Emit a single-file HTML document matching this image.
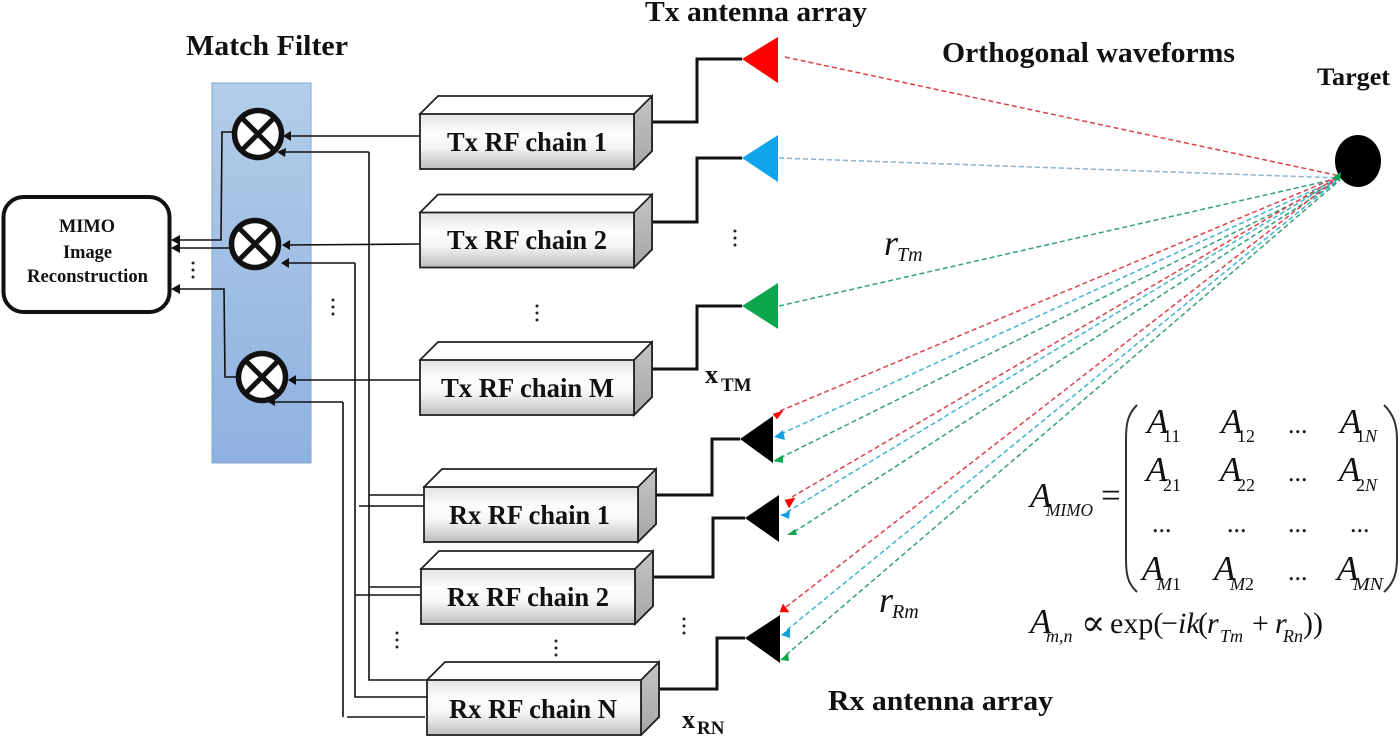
<!DOCTYPE html>
<html>
<head>
<meta charset="utf-8">
<style>
html,body{margin:0;padding:0;background:#fff;width:1400px;height:736px;overflow:hidden}
svg{display:block}
text{font-family:"Liberation Serif",serif;fill:#111}
.b{font-weight:bold}
.i{font-style:italic}
.w{fill:none;stroke:#111;stroke-width:1.6}
.t{fill:none;stroke:#111;stroke-width:3}
.box{stroke:#222;stroke-width:1.8;stroke-linejoin:miter}
.mx{fill:#fff;stroke:#111;stroke-width:5.5}
.mxl{stroke:#111;stroke-width:5}
.d{fill:none;stroke-width:1.5;stroke-dasharray:5 3}
.m{font-size:35px}
.f{font-size:30px}
.s{font-size:18px}
.c{font-size:26px}
</style>
</head>
<body>
<svg width="1400" height="736" viewBox="0 0 1400 736" xmlns="http://www.w3.org/2000/svg">
<defs>
<linearGradient id="bl" x1="0" y1="0" x2="0" y2="1"><stop offset="0" stop-color="#b3cde9"/><stop offset="1" stop-color="#8eb1e0"/></linearGradient>
<linearGradient id="fr" x1="0" y1="0" x2="0" y2="1"><stop offset="0" stop-color="#e4e4e4"/><stop offset=".35" stop-color="#fdfdfd"/><stop offset=".6" stop-color="#f6f6f6"/><stop offset="1" stop-color="#bdbdbd"/></linearGradient>
<linearGradient id="sd" x1="0" y1="0" x2="0" y2="1"><stop offset="0" stop-color="#c4c4c4"/><stop offset="1" stop-color="#a6a6a6"/></linearGradient>
<g id="chain">
<path class="box" d="M0 18 L18 0 H232 V55 L214 73 Z" fill="#fff"/>
<path class="box" d="M214 18 L232 0 V55 L214 73 Z" fill="url(#sd)"/>
<rect class="box" x="0" y="18" width="214" height="55" fill="url(#fr)"/>
</g>
<g id="mix">
<circle class="mx" r="23.500"/>
<path class="mxl" d="M-17 -17 L17 17 M17 -17 L-17 17"/>
</g>
<g id="dots" fill="#222"><circle cy="-7" r="1.5"/><circle r="1.5"/><circle cy="7" r="1.5"/></g>
</defs>

<rect x="212" y="83" width="99" height="380" fill="url(#bl)" stroke="#7fa8d8" stroke-width="1"/>
<rect x="3.500" y="197" width="166" height="115" rx="20" fill="#fff" stroke="#111" stroke-width="4"/>

<!-- thin connectors -->
<path class="w" d="M420 136 H287"/>
<path class="w" d="M369 152 H281 M369 152 V680 H427 M369 495 H424"/>
<path class="w" d="M420 244 L286 245"/>
<path class="w" d="M355 263 H286 M355 263 V697 H427 M355 595 H421"/>
<path class="w" d="M370 587 H426"/>
<path class="w" d="M359 506 H425"/>
<path class="w" d="M420 380 H292"/>
<path class="w" d="M343 402 H274 M343 402 V717 M347 717 H425"/>
<path class="w" d="M232 132 H222 L221 240 H178"/>
<path class="w" d="M231 248 H178"/>
<path class="w" d="M237 377 H225 L224 289 H178"/>

<use href="#mix" x="258" y="134"/>
<use href="#mix" x="255" y="244"/>
<use href="#mix" x="262" y="377"/>

<g fill="#111">
<path d="M283 136 L291 131 V141 Z"/>
<path d="M277 152 L286 148 L285 157 Z"/>
<path d="M282 245 L290 240 V250 Z"/>
<path d="M281 263 L289 258 V268 Z"/>
<path d="M288 380 L296 375 V385 Z"/>
<path d="M268 402 L275 398 V406 Z"/>
<path d="M171 240 L180 235 V245 Z"/>
<path d="M171 248 L180 243 V253 Z"/>
<path d="M171 289 L180 284 V294 Z"/>
</g>

<!-- boxes -->
<use href="#chain" x="420" y="96"/>
<use href="#chain" x="420" y="194.500"/>
<use href="#chain" x="420" y="342"/>
<use href="#chain" x="424" y="469"/>
<use href="#chain" x="421" y="551"/>
<use href="#chain" x="427" y="662"/>

<!-- thick connectors -->
<path class="t" d="M653 122 H697 V59 H742"/>
<path class="t" d="M653 222 H697 V158 H742"/>
<path class="t" d="M653 369 H697 V306 H742"/>
<path class="t" d="M656 495 H712 V439 H740"/>
<path class="t" d="M654 577 H713 V518 H745"/>
<path class="t" d="M660 689 H717 V638 H745"/>

<!-- antennas -->
<path d="M742 59 L778 37 V83 Z" fill="#ff0000"/>
<path d="M742 158 L778 135 V182 Z" fill="#0ea5ea"/>
<path d="M742 306 L778 283 V329 Z" fill="#0ca64c"/>
<path d="M740 439 L773 416 V463 Z" fill="#000"/>
<path d="M745 518 L779 495 V542 Z" fill="#000"/>
<path d="M745 638 L780 615 V663 Z" fill="#000"/>

<!-- target -->
<ellipse cx="1358" cy="161" rx="23" ry="26" fill="#000"/>

<!-- dashed rays -->
<g class="d">
<path class="d" stroke="#d9434f" d="M785 57 L1340 176"/>
<path class="d" stroke="#86b4d6" d="M779 158 L1340 178"/>
<path class="d" stroke="#35a07a" d="M779 306 L1340 178"/>
<path class="d" stroke="#d9434f" d="M780 411 L1340 176"/>
<path class="d" stroke="#3fb5cf" d="M781 434 L1340 178"/>
<path class="d" stroke="#35a07a" d="M780 458 L1340 180"/>
<path class="d" stroke="#d9434f" d="M792 497 L1340 176"/>
<path class="d" stroke="#3fb5cf" d="M787 512 L1340 178"/>
<path class="d" stroke="#35a07a" d="M794 532 L1340 180"/>
<path class="d" stroke="#d9434f" d="M786 607 L1340 176"/>
<path class="d" stroke="#3fb5cf" d="M787 630 L1340 178"/>
<path class="d" stroke="#35a07a" d="M786 655 L1340 180"/>
</g>
<path d="M1332 178 L1341 172 L1340 181 Z" fill="#0ca64c"/>
<g>
<path d="M773 414 L783 411 L777 419 Z M785 500 L795 498 L789 508 Z M780 612 L789 612 L783 604 Z" fill="#ff0000" stroke="#ff0000" stroke-width=".5"/>
<path d="M774 437 L783 430 L785 440 Z M780 515 L790 511 L789 519 Z M781 635 L790 628 L790 638 Z" fill="#14a0e0"/>
<path d="M773 461 L783 455 L783 463 Z M787 535 L795 529 L797 535 Z M780 660 L788 653 L789 661 Z" fill="#0ca64c"/>
</g>

<!-- ellipsis dots -->
<use href="#dots" x="193" y="270"/>
<use href="#dots" x="333" y="307"/>
<use href="#dots" x="537" y="313"/>
<use href="#dots" x="735" y="238"/>
<use href="#dots" x="397" y="640"/>
<use href="#dots" x="556" y="648"/>
<use href="#dots" x="684" y="626"/>

<!-- titles -->
<text class="b" x="186" y="55" font-size="29" textLength="162" lengthAdjust="spacingAndGlyphs">Match Filter</text>
<text class="b" x="645" y="21" font-size="29" textLength="222" lengthAdjust="spacingAndGlyphs">Tx antenna array</text>
<text class="b" x="942" y="62" font-size="29" textLength="293" lengthAdjust="spacingAndGlyphs">Orthogonal waveforms</text>
<text class="b" x="1317" y="85" font-size="25" textLength="73" lengthAdjust="spacingAndGlyphs">Target</text>
<text class="b" x="828" y="710" font-size="29" textLength="225" lengthAdjust="spacingAndGlyphs">Rx antenna array</text>

<text class="b" x="59" y="232" font-size="18.500" textLength="56" lengthAdjust="spacingAndGlyphs">MIMO</text>
<text class="b" x="63" y="258" font-size="18.500" textLength="49" lengthAdjust="spacingAndGlyphs">Image</text>
<text class="b" x="27" y="282" font-size="18.500" textLength="121" lengthAdjust="spacingAndGlyphs">Reconstruction</text>

<text class="b" x="447" y="151" font-size="27.500" textLength="160" lengthAdjust="spacingAndGlyphs">Tx RF chain 1</text>
<text class="b" x="447" y="249" font-size="27.500" textLength="160" lengthAdjust="spacingAndGlyphs">Tx RF chain 2</text>
<text class="b" x="441" y="397" font-size="27.500" textLength="173" lengthAdjust="spacingAndGlyphs">Tx RF chain M</text>
<text class="b" x="449" y="524" font-size="27.500" textLength="161" lengthAdjust="spacingAndGlyphs">Rx RF chain 1</text>
<text class="b" x="447" y="606" font-size="27.500" textLength="162" lengthAdjust="spacingAndGlyphs">Rx RF chain 2</text>
<text class="b" x="449" y="718" font-size="27.500" textLength="168" lengthAdjust="spacingAndGlyphs">Rx RF chain N</text>

<text class="b" x="705" y="383" font-size="26">x</text>
<text class="b" x="721" y="391" font-size="19">TM</text>
<text class="b" x="682" y="728" font-size="26">x</text>
<text class="b" x="697" y="734" font-size="19">RN</text>

<text class="i" x="884" y="255" font-size="36">r</text>
<text class="i" x="897" y="261" font-size="20">Tm</text>
<text class="i" x="879" y="612" font-size="36">r</text>
<text class="i" x="892" y="618" font-size="20">Rm</text>

<!-- matrix -->
<text class="i m" x="1030" y="507">A</text>
<text class="i s" x="1046" y="516" textLength="47" lengthAdjust="spacingAndGlyphs">MIMO</text>
<text class="m" x="1101" y="507">=</text>
<path d="M1137 405 C1127 415 1126 425 1126 440 V558 C1126 573 1127 583 1137 592" fill="none" stroke="#333" stroke-width="2"/>
<path d="M1384 405 C1394 415 1397 425 1397 440 V558 C1397 573 1394 583 1384 592" fill="none" stroke="#333" stroke-width="2"/>

<text class="i m" x="1147" y="433">A</text><text class="s" x="1163" y="442">11</text>
<text class="i m" x="1221" y="433">A</text><text class="s" x="1237" y="442">12</text>
<text class="c" x="1288" y="433">...</text>
<text class="i m" x="1340" y="433">A</text><text class="s" x="1356" y="442">1<tspan class="i">N</tspan></text>

<text class="i m" x="1146" y="481">A</text><text class="s" x="1163" y="491">21</text>
<text class="i m" x="1220" y="481">A</text><text class="s" x="1237" y="491">22</text>
<text class="c" x="1288" y="481">...</text>
<text class="i m" x="1339" y="481">A</text><text class="s" x="1356" y="491">2<tspan class="i">N</tspan></text>

<text class="c" x="1152" y="532">...</text>
<text class="c" x="1227" y="532">...</text>
<text class="c" x="1288" y="532">...</text>
<text class="c" x="1350" y="532">...</text>

<text class="i m" x="1142" y="580">A</text><text class="s" x="1157" y="590"><tspan class="i">M</tspan>1</text>
<text class="i m" x="1214" y="580">A</text><text class="s" x="1230" y="590"><tspan class="i">M</tspan>2</text>
<text class="c" x="1288" y="580">...</text>
<text class="i m" x="1337" y="580">A</text><text class="i s" x="1353" y="590" textLength="30" lengthAdjust="spacingAndGlyphs">MN</text>

<!-- formula -->
<text class="i m" x="1030" y="633">A</text>
<text class="i s" x="1046" y="642">m,n</text>
<text font-size="36" x="1081" y="635" style="font-family:'DejaVu Serif',serif">∝</text>
<text class="f" x="1110" y="633">exp(</text>
<text class="f" x="1161" y="633">−</text>
<text class="i f" x="1178" y="633">ik</text>
<text class="f" x="1198" y="633">(</text>
<text class="i f" x="1207" y="633">r</text>
<text class="i s" x="1220" y="642">Tm</text>
<text class="f" x="1252" y="633">+</text>
<text class="i f" x="1275" y="633">r</text>
<text class="i s" x="1283" y="642" textLength="20" lengthAdjust="spacingAndGlyphs">Rn</text>
<text class="f" x="1303" y="633">))</text>
</svg>
</body>
</html>
